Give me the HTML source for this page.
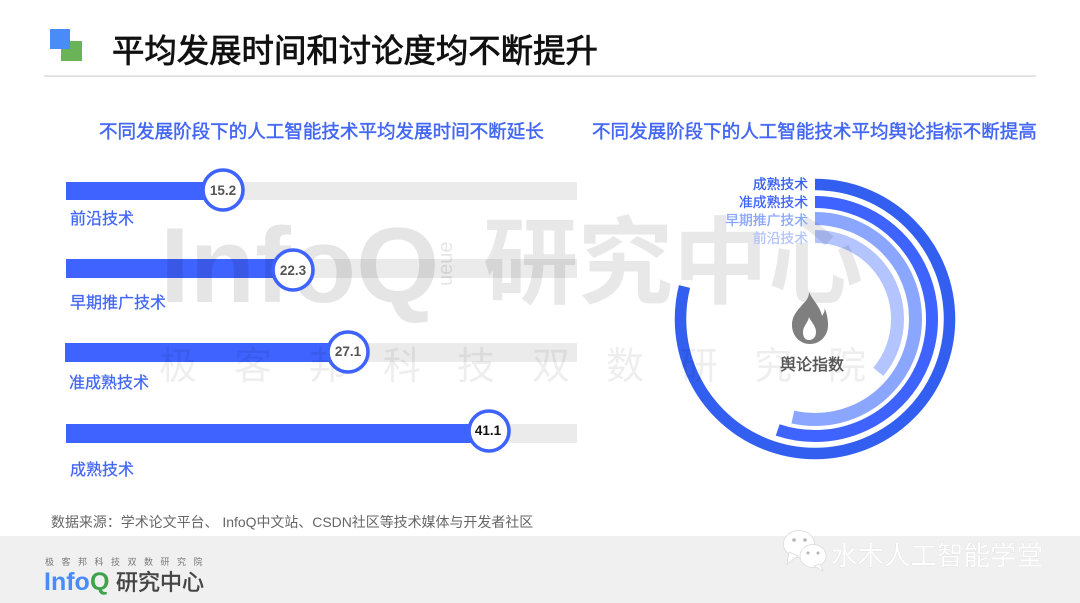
<!DOCTYPE html>
<html lang="zh"><head><meta charset="utf-8">
<style>
html,body{margin:0;padding:0;background:#fff;width:1080px;height:603px;overflow:hidden}
svg{display:block}
text{font-family:"Liberation Sans","Noto Sans CJK SC",sans-serif}
.lab{font-size:16px;fill:#4367f5;stroke:#4367f5;stroke-width:.25px}
.sub{font-size:18.54px;fill:#4367f5;stroke:#4367f5;stroke-width:.45px}
.rl{font-size:13.8px;text-anchor:end;stroke-width:.3px}
.v{font-size:13.5px;font-weight:bold;text-anchor:middle;fill:#555}
.wm{font-size:38px;fill:#000;fill-opacity:.065}
</style></head><body>
<svg width="1080" height="603" viewBox="0 0 1080 603" xmlns="http://www.w3.org/2000/svg">
<rect x="61" y="41" width="21" height="20" fill="#6ab356"/>
<rect x="50" y="29" width="20" height="20" fill="#4a8cf7"/>
<text x="112" y="62" font-size="32.4" fill="#111" stroke="#111" stroke-width=".8">平均发展时间和讨论度均不断提升</text>
<rect x="44" y="75.5" width="992" height="1.2" fill="#d2d2d2"/>
<text x="99" y="138" class="sub">不同发展阶段下的人工智能技术平均发展时间不断延长</text>
<text x="592" y="138" class="sub">不同发展阶段下的人工智能技术平均舆论指标不断提高</text>

<g fill="#ebebeb">
<rect x="66" y="182" width="511" height="18"/><rect x="66" y="259" width="511" height="19"/>
<rect x="65" y="343" width="512" height="19"/><rect x="66" y="424" width="511" height="19"/>
</g>
<g fill="#3f63ff">
<rect x="66" y="182" width="157" height="18"/><rect x="66" y="259" width="227" height="19"/>
<rect x="65" y="343" width="283" height="19"/><rect x="66" y="424" width="423" height="19"/>
</g>

<g fill="none" transform="rotate(-90 815 319)">
<circle cx="815" cy="319" r="134.5" stroke="#335ff0" stroke-width="11.5" pathLength="360" stroke-dasharray="284 360"/>
<circle cx="815" cy="319" r="117" stroke="#3f63ff" stroke-width="12" pathLength="360" stroke-dasharray="198.6 360"/>
<circle cx="815" cy="319" r="100.5" stroke="#8ba6ff" stroke-width="13" pathLength="360" stroke-dasharray="193 360"/>
<circle cx="815" cy="319" r="82.5" stroke="#b3c4ff" stroke-width="13" pathLength="360" stroke-dasharray="130 360"/>
</g>

<!-- watermark -->
<text x="160" y="302" font-size="107" font-weight="bold" fill="#000" fill-opacity=".1">InfoQ</text>
<text transform="translate(452 286) rotate(-90)" font-size="20" fill="#000" fill-opacity=".1">ueue</text>
<text x="483" y="296" font-size="95" font-weight="bold" fill="#000" fill-opacity=".09">研究中心</text>
<text class="wm" x="159" y="379">极</text><text class="wm" x="234" y="379">客</text><text class="wm" x="309" y="379">邦</text><text class="wm" x="383" y="379">科</text><text class="wm" x="457" y="379">技</text><text class="wm" x="532" y="379">双</text><text class="wm" x="606" y="379">数</text><text class="wm" x="680" y="379">研</text><text class="wm" x="754" y="379">究</text><text class="wm" x="828" y="379">院</text>

<g fill="#fff" stroke="#3f63ff" stroke-width="3.6">
<circle cx="223" cy="190" r="20"/><circle cx="293" cy="270" r="20"/>
<circle cx="348" cy="352" r="20"/><circle cx="489" cy="431" r="20"/>
</g>
<text x="223" y="195" class="v">15.2</text>
<text x="293" y="275" class="v">22.3</text>
<text x="348" y="356" class="v">27.1</text>
<text x="488" y="435" class="v" style="fill:#111">41.1</text>

<text x="70" y="224" class="lab">前沿技术</text>
<text x="70" y="308" class="lab">早期推广技术</text>
<text x="69" y="388" class="lab">准成熟技术</text>
<text x="70" y="475" class="lab">成熟技术</text>

<text x="808" y="189" class="rl" fill="#335ff0" stroke="#335ff0">成熟技术</text>
<text x="808" y="207" class="rl" fill="#3f63ff" stroke="#3f63ff">准成熟技术</text>
<text x="808" y="225" class="rl" fill="#8ba6ff" stroke="#8ba6ff">早期推广技术</text>
<text x="808" y="243" class="rl" fill="#b3c4ff" stroke="#b3c4ff">前沿技术</text>

<path d="M809 292C813 301 820 306 822 316C824 313 825 311 824.5 308C827 314 828 319 828 325C828 336 820 344 810 344C800 344 792 336 792 325C792 316 797 311 802 305C806 301 809 298 809 292Z" fill="#7f7f7f"/>
<path d="M809 317C811 322 816 326 816 332C816 337 813 340 809 340C805 340 803 337 803 332C803 326 808 323 809 317Z" fill="#fff"/>
<text x="780" y="370" font-size="16" fill="#555" stroke="#555" stroke-width=".4">舆论指数</text>

<text x="51" y="527" font-size="13.96" fill="#666">数据来源：学术论文平台、 InfoQ中文站、CSDN社区等技术媒体与开发者社区</text>

<rect x="0" y="536" width="1080" height="67" fill="#f0f0f0"/>
<text x="45" y="565" font-size="9" fill="#777" letter-spacing="7.5">极客邦科技双数研究院</text>
<text x="44" y="590" font-size="25" font-weight="bold" fill="#4a8cf7">Info</text>
<text x="90" y="590" font-size="25" font-weight="bold" fill="#3fa34d">Q</text>
<text x="116" y="590" font-size="22" fill="#444" stroke="#444" stroke-width=".5">研究中心</text>

<g fill="#fff" stroke="#d8d8d8" stroke-width=".7">
<ellipse cx="799" cy="544" rx="15.5" ry="13.5"/><path d="M789 552L787 564L798 556Z"/>
<ellipse cx="813" cy="556" rx="13" ry="11.5"/><path d="M820 564L823 571L814 566Z"/>
</g>
<g fill="#b5b5b5"><circle cx="794" cy="540" r="1.8"/><circle cx="805" cy="540" r="1.8"/><circle cx="808" cy="553" r="1.5"/><circle cx="818" cy="553" r="1.5"/></g>
<text x="831" y="565" font-size="26.5" fill="#fff" stroke="#c8c8c8" stroke-width=".35" style="paint-order:stroke">水木人工智能学堂</text>
</svg>
</body></html>
